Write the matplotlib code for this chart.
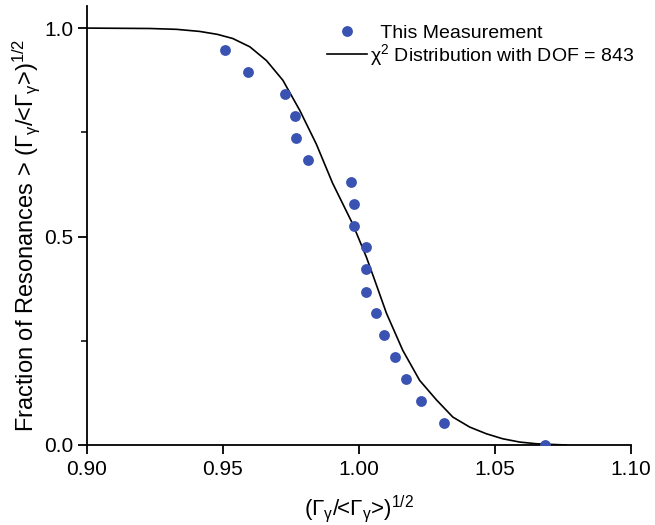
import matplotlib
matplotlib.use("Agg")
import matplotlib.pyplot as plt
from matplotlib.ticker import FixedLocator

plt.rcParams['font.family'] = ['Liberation Sans', 'DejaVu Sans']
plt.rcParams['mathtext.fontset'] = 'custom'
plt.rcParams['mathtext.rm'] = 'Liberation Sans'
plt.rcParams['mathtext.it'] = 'Liberation Sans:italic'

# Measured points
meas_x = [0.9507, 0.9593, 0.9728, 0.9765, 0.9771, 0.9814, 0.9971, 0.9983, 0.9983,
          1.0025, 1.0025, 1.0025, 1.0065, 1.0093, 1.0135, 1.0175, 1.0228, 1.0313, 1.0686]
meas_y = [0.947, 0.895, 0.842, 0.789, 0.737, 0.684, 0.632, 0.579, 0.526,
          0.474, 0.421, 0.368, 0.316, 0.263, 0.211, 0.158, 0.105, 0.053, 0.000]

# Chi-squared curve
curve_x = [0.900, 0.9232, 0.9330, 0.9415, 0.9480, 0.9537, 0.9600, 0.9661, 0.9721, 0.9783,
           0.9844, 0.9904, 0.9978, 1.0028, 1.0059, 1.0102, 1.0162, 1.0224, 1.0286,
           1.0346, 1.0408, 1.0469, 1.0529, 1.0592, 1.0653, 1.0761]
curve_y = [1.000, 0.999, 0.997, 0.992, 0.985, 0.975, 0.955, 0.922, 0.875, 0.803,
           0.722, 0.628, 0.530, 0.451, 0.395, 0.316, 0.227, 0.155, 0.108,
           0.067, 0.043, 0.027, 0.015, 0.007, 0.003, 0.000]

xticks = [0.90, 0.95, 1.00, 1.05, 1.10]
xtick_labels = ["0.90", "0.95", "1.00", "1.05", "1.10"]
yticks = [0.0, 0.5, 1.0]
ytick_labels = ["0.0", "0.5", "1.0"]

fig = plt.figure(figsize=(6.55, 5.25), dpi=100)
ax = fig.add_axes([0.1324, 0.1524, 0.8305, 0.8362])

ax.plot(meas_x, meas_y, 'o', color='#3a53b3', markersize=7.8, markeredgewidth=0,
        label='  This Measurement', zorder=3)
ax.plot(curve_x, curve_y, '-', color='black', linewidth=1.2,
        label=r'$\mathregular{\chi^2}$ Distribution with DOF = 843', zorder=2)

ax.set_xlim(0.90, 1.10)
ax.set_ylim(0.0, 1.053)
ax.set_xticks(xticks)
ax.set_xticklabels(xtick_labels)
ax.set_yticks(yticks)
ax.set_yticklabels(ytick_labels)
ax.yaxis.set_minor_locator(FixedLocator([0.25, 0.75]))

for s in ['top', 'right']:
    ax.spines[s].set_visible(False)
for s in ['left', 'bottom']:
    ax.spines[s].set_linewidth(1.3)
ax.tick_params(which='major', direction='out', length=6.5, width=1.3, labelsize=15,
               colors='black')
ax.tick_params(which='minor', direction='out', length=4, width=1.1)
ax.tick_params(axis='x', pad=4)
ax.tick_params(axis='y', pad=3)

ax.set_xlabel(r'(Γ$_\mathregular{γ}$/<Γ$_\mathregular{γ}$>)$^\mathregular{1/2}$', fontsize=16, labelpad=11)
ax.set_ylabel(r'Fraction of Resonances > (Γ$_\mathregular{γ}$/<Γ$_\mathregular{γ}$>)$^\mathregular{1/2}$',
              fontsize=17)
ax.yaxis.set_label_coords(-0.083, 0.478)

leg = ax.legend(loc='upper left', bbox_to_anchor=(327 / 655, 1 - 24 / 525),
                bbox_transform=fig.transFigure, frameon=False, fontsize=14,
                handlelength=2.07, handletextpad=0.12, labelspacing=0.0,
                borderaxespad=0.0, borderpad=0.0)

fig.savefig('out.png', dpi=100)
